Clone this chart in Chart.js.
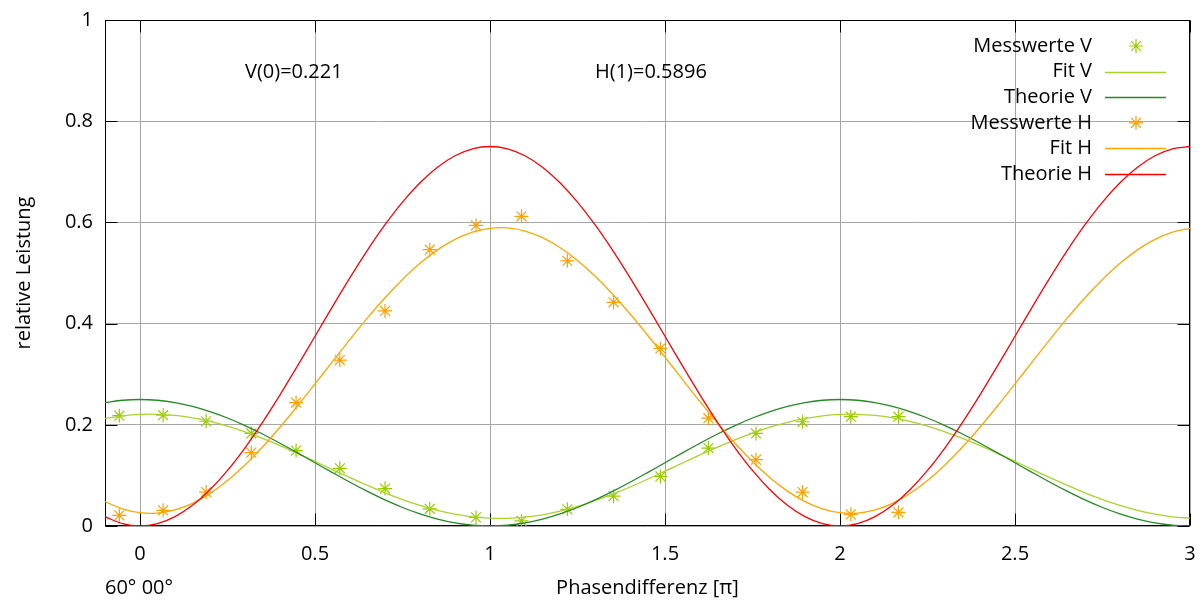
<!DOCTYPE html>
<html>
<head>
<meta charset="utf-8">
<script src="https://cdn.jsdelivr.net/npm/chart.js@4/dist/chart.umd.min.js"></script>
<style>
  html, body { margin: 0; padding: 0; background: #fff; }
  #wrap { width: 1202px; height: 606px; }
</style>
</head>
<body>
<div id="wrap"><canvas id="c" width="1202" height="606"></canvas></div>
<script>
// ---- data ----
const curveX = [-0.1, -0.05, 0, 0.05, 0.1, 0.15, 0.2, 0.25, 0.3, 0.35, 0.4, 0.45, 0.5, 0.55, 0.6, 0.65,
  0.7, 0.75, 0.8, 0.85, 0.9, 0.95, 1, 1.05, 1.1, 1.15, 1.2, 1.25, 1.3, 1.35, 1.4, 1.45, 1.5, 1.55, 1.6,
  1.65, 1.7, 1.75, 1.8, 1.85, 1.9, 1.95, 2, 2.05, 2.1, 2.15, 2.2, 2.25, 2.3, 2.35, 2.4, 2.45, 2.5, 2.55,
  2.6, 2.65, 2.7, 2.75, 2.8, 2.85, 2.9, 2.95, 3];
const fitV = [0.2125, 0.2178, 0.2205,
  0.2208, 0.2185, 0.2138, 0.2067, 0.1974, 0.1861, 0.1732, 0.1589, 0.1436, 0.1277,
  0.1115, 0.0955, 0.0801, 0.0656, 0.0523, 0.0407, 0.0310, 0.0235, 0.0182, 0.0155,
  0.0152, 0.0175, 0.0222, 0.0293, 0.0386, 0.0499, 0.0628, 0.0771, 0.0924, 0.1083,
  0.1245, 0.1405, 0.1559, 0.1704, 0.1837, 0.1953, 0.2050, 0.2125, 0.2178, 0.2205,
  0.2208, 0.2185, 0.2138, 0.2067, 0.1974, 0.1861, 0.1732, 0.1589, 0.1436, 0.1277,
  0.1115, 0.0955, 0.0801, 0.0656, 0.0523, 0.0407, 0.0310, 0.0235, 0.0182, 0.0155];
const theoryV = [0.2439, 0.2485, 0.25,
  0.2485, 0.2439, 0.2364, 0.2261, 0.2134, 0.1985, 0.1818, 0.1636, 0.1446, 0.125,
  0.1055, 0.0864, 0.0683, 0.0515, 0.0366, 0.0239, 0.0136, 0.0061, 0.0015, 0,
  0.0015, 0.0061, 0.0136, 0.0239, 0.0366, 0.0515, 0.0683, 0.0864, 0.1055, 0.125,
  0.1446, 0.1636, 0.1818, 0.1985, 0.2134, 0.2261, 0.2364, 0.2439, 0.2485, 0.25,
  0.2485, 0.2439, 0.2364, 0.2261, 0.2134, 0.1985, 0.1818, 0.1636, 0.1446, 0.125,
  0.1055, 0.0864, 0.0683, 0.0515, 0.0366, 0.0239, 0.0136, 0.0061, 0.0015, 0];
const fitH = [0.0482, 0.0339, 0.0263,
  0.0256, 0.0318, 0.0448, 0.0643, 0.0898, 0.1206, 0.1560, 0.1952, 0.2371, 0.2807,
  0.3250, 0.3689, 0.4112, 0.4510, 0.4872, 0.5191, 0.5457, 0.5664, 0.5807, 0.5883,
  0.5890, 0.5828, 0.5698, 0.5503, 0.5248, 0.4940, 0.4586, 0.4194, 0.3775, 0.3339,
  0.2896, 0.2457, 0.2034, 0.1636, 0.1274, 0.0955, 0.0689, 0.0482, 0.0339, 0.0263,
  0.0256, 0.0318, 0.0448, 0.0643, 0.0898, 0.1206, 0.1560, 0.1952, 0.2371, 0.2807,
  0.3250, 0.3689, 0.4112, 0.4510, 0.4872, 0.5191, 0.5457, 0.5664, 0.5807, 0.5883];
const theoryH = [0.0184, 0.0046, 0,
  0.0046, 0.0184, 0.0409, 0.0716, 0.1098, 0.1546, 0.2048, 0.2591, 0.3164, 0.375,
  0.4337, 0.4909, 0.5453, 0.5954, 0.6402, 0.6784, 0.7091, 0.7317, 0.7454, 0.75,
  0.7454, 0.7317, 0.7091, 0.6784, 0.6402, 0.5954, 0.5453, 0.4909, 0.4337, 0.375,
  0.3164, 0.2591, 0.2048, 0.1546, 0.1098, 0.0716, 0.0409, 0.0184, 0.0046, 0,
  0.0046, 0.0184, 0.0409, 0.0716, 0.1098, 0.1546, 0.2048, 0.2591, 0.3164, 0.375,
  0.4337, 0.4909, 0.5453, 0.5954, 0.6402, 0.6784, 0.7091, 0.7317, 0.7454, 0.75];
const measX = [-0.059, 0.066, 0.189, 0.318, 0.446, 0.571, 0.700, 0.828, 0.960, 1.090, 1.221, 1.353,
               1.487, 1.624, 1.760, 1.893, 2.031, 2.167];
const measV = [0.218, 0.219, 0.207, 0.183, 0.149, 0.114, 0.074, 0.034, 0.017, 0.010, 0.033, 0.059,
               0.098, 0.154, 0.183, 0.206, 0.216, 0.216];
const measH = [0.021, 0.031, 0.067, 0.145, 0.244, 0.328, 0.425, 0.546, 0.594, 0.612, 0.524, 0.442,
               0.351, 0.213, 0.131, 0.067, 0.023, 0.027];
const seriesNames = ['Messwerte V', 'Fit V', 'Theorie V', 'Messwerte H', 'Fit H', 'Theorie H'];
const annotations = [{x: 0.3, y: 0.9, text: 'V(0)=0.221'}, {x: 1.3, y: 0.9, text: 'H(1)=0.5896'}];
const xTitle = 'Phasendifferenz [π]';
const yTitle = 'relative Leistung';
const cornerNote = '60° 00°';

// ---- styles ----
const FONT = '"Open Sans", "Noto Sans", sans-serif';
const FS = 20;
const colors = {
  mV: '#99cc00', fV: '#a8d42a', tV: '#228b22',
  mH: '#ff9f00', fH: '#ffa500', tH: '#ff0000'
};
const pts = (xs, ys) => xs.map((x, i) => ({x, y: ys[i]}));
const fmt = v => String(Math.round(v * 100) / 100);

const lineDs = (label, ys, color) => ({
  label, data: pts(curveX, ys), type: 'line', showLine: true,
  borderColor: color, borderWidth: 1.3, pointRadius: 0, fill: false, tension: 0.3
});
const pointDs = (label, ys, color) => ({
  label, data: pts(measX, ys), type: 'scatter', showLine: false,
  borderColor: color, backgroundColor: color, pointStyle: 'star',
  pointRadius: 7, pointBorderWidth: 1.2
});

const datasets = [
  lineDs(seriesNames[5], theoryH, colors.tH),
  lineDs(seriesNames[4], fitH, colors.fH),
  pointDs(seriesNames[3], measH, colors.mH),
  lineDs(seriesNames[2], theoryV, colors.tV),
  lineDs(seriesNames[1], fitV, colors.fV),
  pointDs(seriesNames[0], measV, colors.mV)
];

const legendItems = [
  {name: seriesNames[0], color: colors.mV, kind: 'point'},
  {name: seriesNames[1], color: colors.fV, kind: 'line'},
  {name: seriesNames[2], color: colors.tV, kind: 'line'},
  {name: seriesNames[3], color: colors.mH, kind: 'point'},
  {name: seriesNames[4], color: colors.fH, kind: 'line'},
  {name: seriesNames[5], color: colors.tH, kind: 'line'}
];

function drawStar(ctx, cx, cy, r, color) {
  ctx.save();
  ctx.strokeStyle = color; ctx.lineWidth = 1.2;
  ctx.beginPath();
  ctx.moveTo(cx - r, cy); ctx.lineTo(cx + r, cy);
  ctx.moveTo(cx, cy - r); ctx.lineTo(cx, cy + r);
  const d = r * Math.SQRT1_2;
  ctx.moveTo(cx - d, cy - d); ctx.lineTo(cx + d, cy + d);
  ctx.moveTo(cx - d, cy + d); ctx.lineTo(cx + d, cy - d);
  ctx.stroke();
  ctx.restore();
}

const deco = {
  id: 'deco',
  beforeDatasetsDraw(chart) {
    const {ctx, chartArea: a, scales: {x, y}} = chart;
    ctx.save();
    ctx.strokeStyle = '#000';
    ctx.lineWidth = 1;
    const L = 12;
    const l = Math.round(a.left) + 0.5, r = Math.round(a.right) - 0.5;
    const t = Math.round(a.top) + 0.5, b = Math.round(a.bottom) - 0.5;
    ctx.beginPath();
    x.ticks.forEach(tk => {
      const px = Math.round(x.getPixelForValue(tk.value)) + 0.5;
      ctx.moveTo(px, b); ctx.lineTo(px, b - L);
      ctx.moveTo(px, t); ctx.lineTo(px, t + L);
    });
    y.ticks.forEach(tk => {
      const py = Math.round(y.getPixelForValue(tk.value)) + 0.5;
      ctx.moveTo(l, py); ctx.lineTo(l + L, py);
      ctx.moveTo(r, py); ctx.lineTo(r - L, py);
    });
    ctx.stroke();
    ctx.strokeRect(l, t, r - l, b - t);
    ctx.restore();
  },
  afterDraw(chart) {
    const {ctx, chartArea: a, scales: {x, y}} = chart;
    ctx.save();
    ctx.font = `${FS}px ${FONT}`;
    ctx.fillStyle = '#000';
    ctx.textBaseline = 'middle';
    ctx.textAlign = 'left';
    annotations.forEach(an => ctx.fillText(an.text, x.getPixelForValue(an.x), y.getPixelForValue(an.y) + 2));
    ctx.fillText(cornerNote, a.left, 588);
    legendItems.forEach((it, i) => {
      const cy = a.top + 26 + i * 25.6;
      ctx.textAlign = 'right';
      ctx.fillStyle = '#000';
      ctx.fillText(it.name, a.right - 98, cy);
      if (it.kind === 'line') {
        ctx.strokeStyle = it.color; ctx.lineWidth = 1.3;
        ctx.beginPath(); ctx.moveTo(a.right - 85, Math.round(cy) + 0.5); ctx.lineTo(a.right - 24, Math.round(cy) + 0.5); ctx.stroke();
      } else {
        drawStar(ctx, a.right - 54, cy, 7, it.color);
      }
    });
    ctx.restore();
  }
};

new Chart(document.getElementById('c'), {
  type: 'scatter',
  data: {datasets},
  options: {
    responsive: false,
    animation: false,
    devicePixelRatio: 1,
    layout: {padding: {left: 0, right: 12, top: 20, bottom: 0}},
    plugins: {legend: {display: false}, tooltip: {enabled: false}},
    scales: {
      x: {
        type: 'linear', min: -0.1, max: 3,
        ticks: {stepSize: 0.5, includeBounds: false, padding: 16, color: '#000',
                font: {family: FONT, size: FS}, maxRotation: 0, callback: fmt},
        grid: {color: '#a6a6a6', lineWidth: 1, drawTicks: false},
        border: {display: false},
        title: {display: true, text: xTitle, color: '#000', font: {family: FONT, size: FS},
                padding: {top: 0, bottom: 6}},
        afterFit(s) { s.height = 80; s.paddingLeft = 0; s.paddingRight = 0; }
      },
      y: {
        type: 'linear', min: 0, max: 1,
        ticks: {stepSize: 0.2, includeBounds: false, padding: 12, color: '#000',
                font: {family: FONT, size: FS}, callback: fmt},
        grid: {color: '#a6a6a6', lineWidth: 1, drawTicks: false},
        border: {display: false},
        title: {display: true, text: yTitle, color: '#000', font: {family: FONT, size: FS},
                padding: {top: 12, bottom: 0}},
        afterFit(s) { s.width = 105; s.paddingTop = 0; s.paddingBottom = 0; }
      }
    }
  },
  plugins: [deco]
});
</script>
</body>
</html>
